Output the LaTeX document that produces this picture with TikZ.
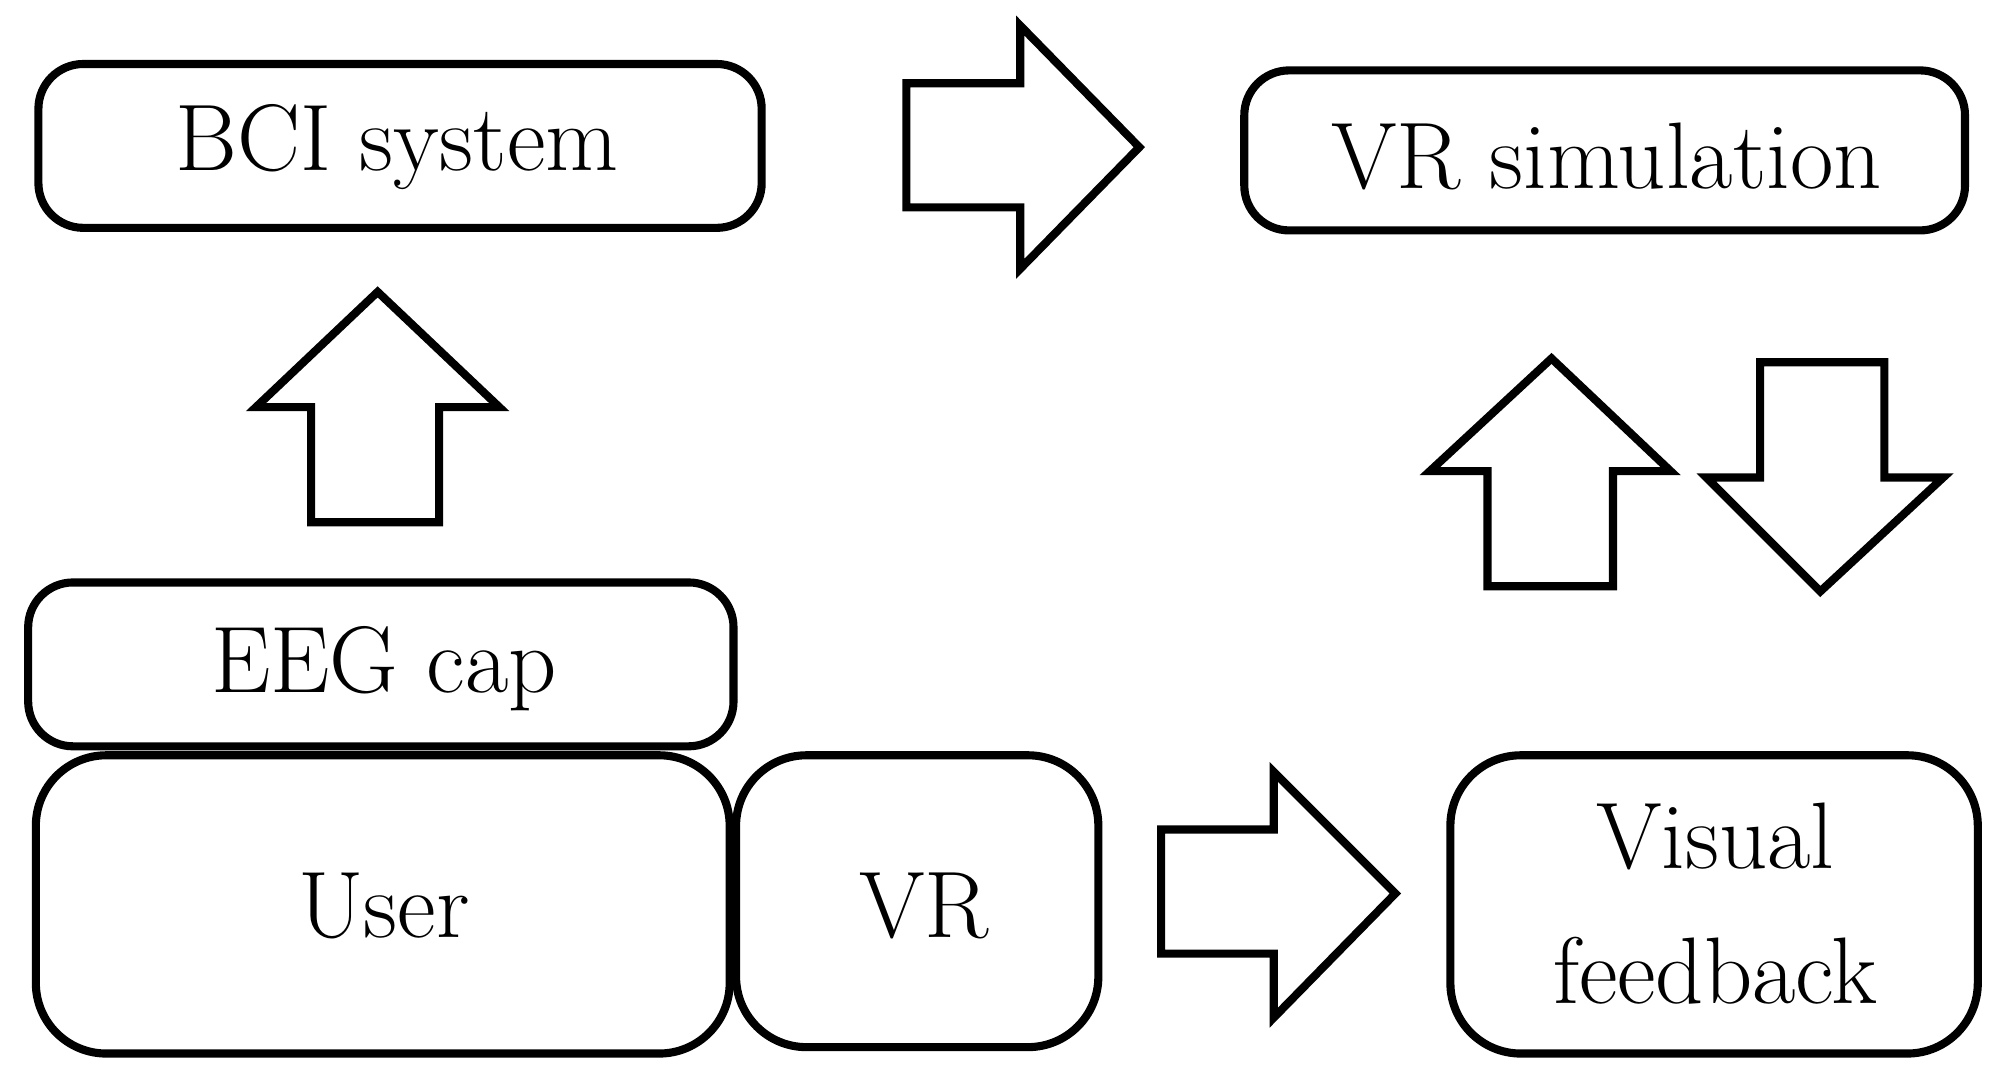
\documentclass[tikz,border=0pt]{standalone}
\begin{document}
\begin{tikzpicture}[x=0.01cm,y=-0.01cm,
 box/.style={draw,line width=1.8pt,rounded corners=0.35cm},
 bigbox/.style={draw,line width=1.8pt,rounded corners=0.55cm},
 arr/.style={draw,line width=1.8pt,line join=miter},
 lbl/.style={font=\fontsize{21}{30}\selectfont,align=center}]
\useasboundingbox (0,0) rectangle (1560,837);
\draw[box] (30,50) rectangle (595,178);
\node[lbl] (bci) at (310,115) {BCI system};
\draw[box] (972,55) rectangle (1535,180);
\node[lbl] (vrs) at (1255,122) {VR simulation};
\draw[box] (22,455) rectangle (573,583);
\node[lbl] (eeg) at (300,522) {EEG cap};
\draw[bigbox] (28,590) rectangle (570,823);
\node[lbl] (user) at (300,708) {User};
\draw[bigbox] (575,590) rectangle (858,818);
\node[lbl] (vr) at (722,708) {VR};
\draw[bigbox] (1133,590) rectangle (1545,823);
\node[lbl] (vf) at (1340,706) {Visual\\feedback};
% arrows
\draw[arr] (708,65) -- (797,65) -- (797,20) -- (890,115) -- (797,210) -- (797,162) -- (708,162) -- cycle;
\draw[arr] (243,408) -- (243,318) -- (200,318) -- (295,228) -- (390,318) -- (343,318) -- (343,408) -- cycle;
\draw[arr] (1162,458) -- (1162,368) -- (1117,368) -- (1212,280) -- (1305,368) -- (1260,368) -- (1260,458) -- cycle;
\draw[arr] (1375,283) -- (1472,283) -- (1472,373) -- (1518,373) -- (1422,462) -- (1333,373) -- (1375,373) -- cycle;
\draw[arr] (907,648) -- (995,648) -- (995,603) -- (1090,698) -- (995,795) -- (995,745) -- (907,745) -- cycle;
\end{tikzpicture}
\end{document}
